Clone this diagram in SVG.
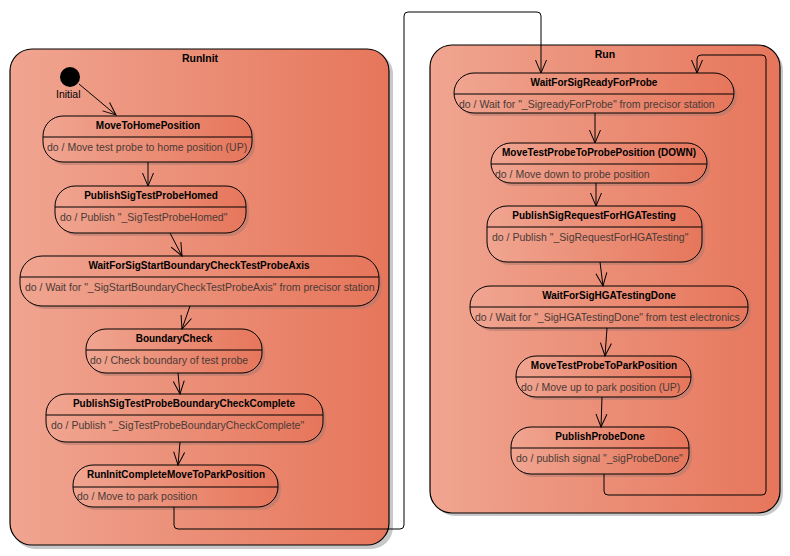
<svg xmlns="http://www.w3.org/2000/svg" width="790" height="556" viewBox="0 0 790 556">
<defs>
<linearGradient id="g" x1="0" y1="0" x2="1" y2="0">
<stop offset="0" stop-color="#F0A591"/>
<stop offset="1" stop-color="#E6765B"/>
</linearGradient>
<marker id="arr" markerUnits="userSpaceOnUse" markerWidth="16" markerHeight="16" viewBox="0 0 16 16" refX="14" refY="8" orient="auto">
<path d="M1,2.5 L14,8 L1,13.5" fill="none" stroke="#000" stroke-width="1"/>
</marker>
<style>
.cont{fill:url(#g);stroke:#000;stroke-width:1.2}
.cshadow{fill:#c8c8c8}
.node{fill:url(#g);stroke:#000;stroke-width:1}
.nshadow{fill:#b07a70;opacity:0.55}
.div{stroke:#000;stroke-width:1}
.ctitle{font-family:"Liberation Sans",Arial,sans-serif;font-weight:bold;font-size:10.5px;fill:#000;text-anchor:middle}
.title{font-family:"Liberation Sans",Arial,sans-serif;font-weight:bold;font-size:10px;fill:#000;text-anchor:middle}
.body{font-family:"Liberation Sans",Arial,sans-serif;font-size:10.5px;fill:#4a3a36}
.lbl{font-family:"Liberation Sans",Arial,sans-serif;font-size:10.5px;fill:#000}
.conn{fill:none;stroke:#000;stroke-width:1}
</style>
</defs>
<rect width="790" height="556" fill="#fff"/>

<g id="RunInit">
<rect class="cshadow" x="13" y="52" width="380" height="497" rx="22"/>
<rect class="cont" x="10" y="49" width="379" height="496" rx="22"/>
<text class="ctitle" x="200" y="62">RunInit</text>
</g>

<g id="Run">
<rect class="cshadow" x="433" y="48" width="350" height="468" rx="22"/>
<rect class="cont" x="430" y="45" width="350" height="468" rx="22"/>
<text class="ctitle" x="605" y="58">Run</text>
</g>

<g id="Initial">
<circle cx="70" cy="77" r="10" fill="#000"/>
<text class="lbl" x="56" y="98">Initial</text>
</g>

<g id="MoveToHomePosition">
<rect class="nshadow" x="46" y="119" width="209" height="46" rx="20"/>
<rect class="node" x="43" y="116" width="209" height="46" rx="20"/>
<line class="div" x1="43" y1="137" x2="252" y2="137"/>
<text class="title" x="148" y="129">MoveToHomePosition</text>
<text class="body" x="47" y="151">do / Move test probe to home position (UP)</text>
</g>

<g id="PublishSigTestProbeHomed">
<rect class="nshadow" x="58" y="189" width="191" height="47" rx="20"/>
<rect class="node" x="55" y="186" width="191" height="47" rx="20"/>
<line class="div" x1="55" y1="207" x2="246" y2="207"/>
<text class="title" x="151" y="199">PublishSigTestProbeHomed</text>
<text class="body" x="60" y="221">do / Publish "_SigTestProbeHomed"</text>
</g>

<g id="WaitForSigStartBoundaryCheckTestProbeAxis">
<rect class="nshadow" x="23" y="259" width="359" height="50" rx="22"/>
<rect class="node" x="20" y="256" width="359" height="50" rx="22"/>
<line class="div" x1="20" y1="277" x2="379" y2="277"/>
<text class="title" x="199" y="269">WaitForSigStartBoundaryCheckTestProbeAxis</text>
<text class="body" x="25" y="291">do / Wait for "_SigStartBoundaryCheckTestProbeAxis" from precisor station</text>
</g>

<g id="BoundaryCheck">
<rect class="nshadow" x="89" y="332" width="176" height="44" rx="20"/>
<rect class="node" x="86" y="329" width="176" height="44" rx="20"/>
<line class="div" x1="86" y1="350" x2="262" y2="350"/>
<text class="title" x="174" y="342">BoundaryCheck</text>
<text class="body" x="90" y="364">do / Check boundary of test probe</text>
</g>

<g id="PublishSigTestProbeBoundaryCheckComplete">
<rect class="nshadow" x="49" y="397" width="277" height="48" rx="20"/>
<rect class="node" x="46" y="394" width="277" height="48" rx="20"/>
<line class="div" x1="46" y1="415" x2="323" y2="415"/>
<text class="title" x="184" y="407">PublishSigTestProbeBoundaryCheckComplete</text>
<text class="body" x="51" y="429">do / Publish "_SigTestProbeBoundaryCheckComplete"</text>
</g>

<g id="RunInitCompleteMoveToParkPosition">
<rect class="nshadow" x="76" y="468" width="205" height="42" rx="20"/>
<rect class="node" x="73" y="465" width="205" height="42" rx="20"/>
<line class="div" x1="73" y1="487" x2="278" y2="487"/>
<text class="title" x="176" y="478">RunInitCompleteMoveToParkPosition</text>
<text class="body" x="77" y="500">do / Move to park position</text>
</g>

<g id="WaitForSigReadyForProbe">
<rect class="nshadow" x="457" y="76" width="280" height="40" rx="20"/>
<rect class="node" x="454" y="73" width="280" height="40" rx="20"/>
<line class="div" x1="454" y1="94" x2="734" y2="94"/>
<text class="title" x="594" y="86">WaitForSigReadyForProbe</text>
<text class="body" x="459" y="108">do / Wait for "_SigreadyForProbe" from precisor station</text>
</g>

<g id="MoveTestProbeToProbePosition">
<rect class="nshadow" x="494" y="146" width="216" height="40" rx="20"/>
<rect class="node" x="491" y="143" width="216" height="40" rx="20"/>
<line class="div" x1="491" y1="164" x2="707" y2="164"/>
<text class="title" x="599" y="156">MoveTestProbeToProbePosition (DOWN)</text>
<text class="body" x="495" y="178">do / Move down to probe position</text>
</g>

<g id="PublishSigRequestForHGATesting">
<rect class="nshadow" x="490" y="209" width="215" height="56" rx="20"/>
<rect class="node" x="487" y="206" width="215" height="56" rx="20"/>
<line class="div" x1="487" y1="227" x2="702" y2="227"/>
<text class="title" x="594" y="219">PublishSigRequestForHGATesting</text>
<text class="body" x="492" y="241">do / Publish "_SigRequestForHGATesting"</text>
</g>

<g id="WaitForSigHGATestingDone">
<rect class="nshadow" x="473" y="289" width="278" height="42" rx="20"/>
<rect class="node" x="470" y="286" width="278" height="42" rx="20"/>
<line class="div" x1="470" y1="307" x2="748" y2="307"/>
<text class="title" x="609" y="299">WaitForSigHGATestingDone</text>
<text class="body" x="475" y="321">do / Wait for "_SigHGATestingDone" from test electronics</text>
</g>

<g id="MoveTestProbeToParkPosition">
<rect class="nshadow" x="519" y="359" width="175" height="41" rx="20"/>
<rect class="node" x="516" y="356" width="175" height="41" rx="20"/>
<line class="div" x1="516" y1="377" x2="691" y2="377"/>
<text class="title" x="604" y="369">MoveTestProbeToParkPosition</text>
<text class="body" x="521" y="391">do / Move up to park position (UP)</text>
</g>

<g id="PublishProbeDone">
<rect class="nshadow" x="514" y="430" width="178" height="47" rx="20"/>
<rect class="node" x="511" y="427" width="178" height="47" rx="20"/>
<line class="div" x1="511" y1="448" x2="689" y2="448"/>
<text class="title" x="600" y="440">PublishProbeDone</text>
<text class="body" x="516" y="462">do / publish signal "_sigProbeDone"</text>
</g>

<g id="connectors">
<path class="conn" marker-end="url(#arr)" d="M79,84 L116,115"/>
<path class="conn" marker-end="url(#arr)" d="M148,162 L148,186"/>
<path class="conn" marker-end="url(#arr)" d="M170,233 L182,256"/>
<path class="conn" marker-end="url(#arr)" d="M190,306 L182,329"/>
<path class="conn" marker-end="url(#arr)" d="M178,373 L180,394"/>
<path class="conn" marker-end="url(#arr)" d="M180,442 L178,465"/>
<path class="conn" marker-end="url(#arr)" d="M174,507 L174,525 Q174,529 178,529 L400,529 Q404,529 404,525 L404,16 Q404,12 408,12 L537,12 Q541,12 541,16 L541,73"/>
<path class="conn" marker-end="url(#arr)" d="M595,113 L595,143"/>
<path class="conn" marker-end="url(#arr)" d="M596,183 L596,206"/>
<path class="conn" marker-end="url(#arr)" d="M600,262 L603,286"/>
<path class="conn" marker-end="url(#arr)" d="M607,328 L605,356"/>
<path class="conn" marker-end="url(#arr)" d="M602,397 L601,427"/>
<path class="conn" marker-end="url(#arr)" d="M604,474 L604,491 Q604,495 608,495 L762,495 Q766,495 766,491 L766,59 Q766,55 762,55 L701,55 Q697,55 697,59 L697,73"/>
</g>
</svg>
